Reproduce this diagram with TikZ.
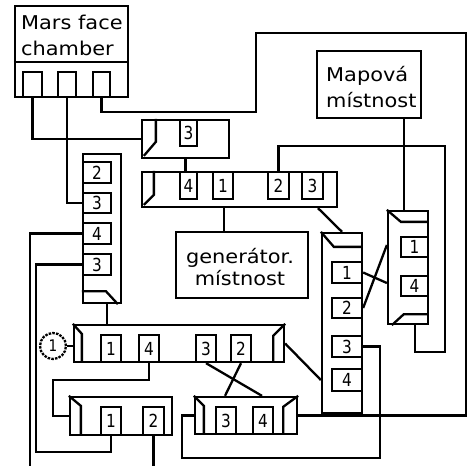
\documentclass[tikz,border=0pt]{standalone}
\usepackage{graphicx}
\usepackage{fontspec}
\newfontfamily\labfont{DejaVu Sans}
\newfontfamily\digfont{DejaVu Sans}
\newcommand\wideT[1]{\scalebox{1.1}[1]{#1}}
\newcommand\narD[1]{\scalebox{0.85}[1]{#1}}
\begin{document}
\begin{tikzpicture}[x=1pt,y=-1pt,line width=2.3pt,
  box/.style={draw,inner sep=0pt},
  slot/.style={draw,inner sep=0pt,font=\digfont\fontsize{18}{18}\selectfont},
  lab/.style={inner sep=0pt,font=\labfont\fontsize{19}{22}\selectfont},
  wire/.style={draw}]
\useasboundingbox[fill=white] (0,0) rectangle (470,466);
% boxes
\node[box,minimum width=113,minimum height=91] (M) at (71.5,51.5) {};
\node[box,minimum width=104,minimum height=67] (P) at (369,84.5) {};
\node[box,minimum width=87,minimum height=38] (A) at (185.5,139) {};
\node[box,minimum width=195,minimum height=35] (E) at (239.5,189.5) {};
\node[box,minimum width=132,minimum height=66] (G) at (242,265) {};
\node[box,minimum width=38,minimum height=149] (V1) at (102,228.5) {};
\node[box,minimum width=40,minimum height=180] (V2) at (342,323) {};
\node[box,minimum width=40,minimum height=113] (V3) at (408,267.5) {};
\node[box,minimum width=210,minimum height=37] (B) at (179,343.5) {};
\node[box,minimum width=102,minimum height=38] (C) at (121,416) {};
\node[box,minimum width=102,minimum height=37] (D) at (246,415.5) {};
\node[draw,circle,dash pattern=on 2.5pt off 1.2pt,minimum size=26,inner sep=0pt,font=\digfont\fontsize{16}{16}\selectfont] (circ) at (53,346) {\narD{1}};
% texts
\node[lab,anchor=base west] (mt1) at (20,29) {\wideT{Mars face}};
\node[lab,anchor=base west] (mt2) at (20,55) {\wideT{chamber}};
\node[lab,anchor=base west] (pt1) at (325,81) {\wideT{Mapová}};
\node[lab,anchor=base west] (pt2) at (325,107) {\wideT{místnost}};
\node[lab,anchor=base] (gt1) at (240,263) {\wideT{generátor.}};
\node[lab,anchor=base] (gt2) at (240,285) {\wideT{místnost}};
% Mars divider and slots
\draw (M.north west) ++(0,57) -- ++(113,0);
\node[slot,minimum width=19,minimum height=25] (m1) at (32.5,84.5) {};
\node[slot,minimum width=18,minimum height=25] (m2) at (67,84.5) {};
\node[slot,minimum width=17,minimum height=25] (m3) at (101.5,84.5) {};
% slots
\node[slot,minimum width=17,minimum height=26] (a3) at (188.5,133) {\narD{3}};
\node[slot,minimum width=17,minimum height=27] (e4) at (188.5,185.5) {\narD{4}};
\node[slot,minimum width=20,minimum height=27] (e1) at (223,185.5) {\narD{1}};
\node[slot,minimum width=21,minimum height=27] (e2) at (278.5,185.5) {\narD{2}};
\node[slot,minimum width=21,minimum height=27] (e3) at (312.5,185.5) {\narD{3}};
\node[slot,minimum width=28,minimum height=21] (v1a) at (97,172.5) {\narD{2}};
\node[slot,minimum width=28,minimum height=20] (v1b) at (97,203) {\narD{3}};
\node[slot,minimum width=28,minimum height=21] (v1c) at (97,233.5) {\narD{4}};
\node[slot,minimum width=28,minimum height=21] (v1d) at (97,264.5) {\narD{3}};
\node[slot,minimum width=20,minimum height=27] (b1) at (111,348.5) {\narD{1}};
\node[slot,minimum width=20,minimum height=27] (b4) at (149,348.5) {\narD{4}};
\node[slot,minimum width=20,minimum height=27] (b3) at (206,348.5) {\narD{3}};
\node[slot,minimum width=20,minimum height=27] (b2) at (241,348.5) {\narD{2}};
\node[slot,minimum width=20,minimum height=28] (c1) at (111,421) {\narD{1}};
\node[slot,minimum width=21,minimum height=28] (c2) at (153.5,421) {\narD{2}};
\node[slot,minimum width=20,minimum height=27] (d3) at (226,420.5) {\narD{3}};
\node[slot,minimum width=20,minimum height=27] (d4) at (263,420.5) {\narD{4}};
\node[slot,minimum width=30,minimum height=21] (v2a) at (347,272.5) {\narD{1}};
\node[slot,minimum width=30,minimum height=20] (v2b) at (347,308) {\narD{2}};
\node[slot,minimum width=30,minimum height=21] (v2c) at (347,346.5) {\narD{3}};
\node[slot,minimum width=30,minimum height=22] (v2d) at (347,380) {\narD{4}};
\node[slot,minimum width=27,minimum height=20] (t1) at (414.5,247) {\narD{1}};
\node[slot,minimum width=27,minimum height=20] (t4) at (414.5,286) {\narD{4}};
% plugs
\draw ([xshift=15pt]A.north west) -- ++(0,23) -- ++(-12,14);
\draw ([xshift=13pt]E.north west) -- ++(0,24) -- ++(-10,10);
\draw (V1.south west) ++(0,-13) -- ++(24,0) -- ++(12,13);
\draw (B.north west) -- ++(9,10) -- ++(0,27);
\draw (B.north east) -- ++(-12,12) -- ++(0,25);
\draw (C.north west) -- ++(12,10) -- ++(0,28);
\draw (D.north west) -- ++(10,10) -- ++(0,27);
\draw (D.north east) -- ++(-15,11) -- ++(0,26);
\draw (V2.north west) -- ++(13,15) -- ++(27,0);
\draw (V3.north west) -- ++(14,12) -- ++(26,0);
\draw (V3.south west) ++(5,0) -- ++(12,-11) -- ++(23,0);
% helper coordinates
\coordinate (k1) at (256,112);
\coordinate (k2) at (466,33);
\coordinate (k3) at (445,146);
\coordinate (k4) at (415,352);
\coordinate (k6) at (36,452);
\coordinate (k7) at (53,380);
\coordinate (k8) at (380,458);
\coordinate (bl) at (30,466);
\coordinate (bot) at (0,466);
\coordinate (gx) at (224,0);
\coordinate (ex) at (318,0);
\coordinate (vx) at (342,0);
\coordinate (px) at (404,0);
\coordinate (vb) at (107,0);
\coordinate (dx1) at (262,0);
\coordinate (dx2) at (225,0);
\coordinate (q1) at (0,283);
\coordinate (q3) at (0,245);
\coordinate (q5) at (0,380);
% connectors
\draw[wire] (m1.south) |- (A.west);
\draw[wire] (m2.south) |- (v1b.west);
\draw[wire] (m3.south) |- (k1) |- (k2) |- (D.east);
\draw[wire] (A.south) -- (A.south |- E.north);
\draw[wire] (e2.north) |- (k3) |- (k4) -- (k4 |- V3.south);
\draw[wire] (E.south -| gx) -- (G.north -| gx);
\draw[wire] (E.south -| ex) -- (V2.north -| vx);
\draw[wire] (P.south -| px) -- (V3.north -| px);
\draw[wire] (v1c.west) -| (bl);
\draw[wire] (v1d.west) -| (k6) -| (c1.south);
\draw[wire] (V1.south -| vb) -- (B.north -| vb);
\draw[wire] (circ.east) -- (circ.east -| B.west);
\draw[wire] (b4.south) |- (k7) |- (C.west);
\draw[wire] (b3.south) -- (D.north -| dx1);
\draw[wire] (b2.south) -- (D.north -| dx2);
\draw[wire] (B.east) -- (V2.west |- q5);
\draw[wire] (c2.south) -- (c2.south |- bot);
\draw[wire] (v2c.east) -| (k8) -| ([xshift=-12pt]D.west) -- (D.west);
\draw[wire] (v2a.east) -- (V3.west |- q1);
\draw[wire] (v2b.east) -- (V3.west |- q3);
\end{tikzpicture}
\end{document}
